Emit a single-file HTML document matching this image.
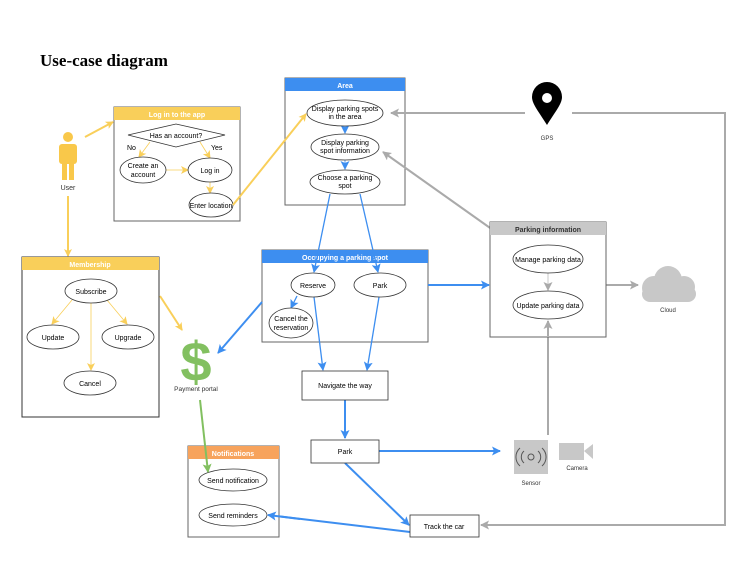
<!DOCTYPE html>
<html><head><style>
body{margin:0;background:#fff;}
svg text{font-family:"Liberation Sans",sans-serif;}
</style></head><body>
<svg width="745" height="580" viewBox="0 0 745 580" xmlns="http://www.w3.org/2000/svg">
<defs>
<marker id="ay" markerWidth="8" markerHeight="8" refX="7" refY="4" orient="auto" markerUnits="userSpaceOnUse"><path d="M0,0 L8,4 L0,8 L2,4z" fill="#f9cf5a"/></marker>
<marker id="ab" markerWidth="9" markerHeight="9" refX="8" refY="4.5" orient="auto" markerUnits="userSpaceOnUse"><path d="M0,0 L9,4.5 L0,9 L2,4.5z" fill="#3d8ef0"/></marker>
<marker id="ag" markerWidth="9" markerHeight="9" refX="8" refY="4.5" orient="auto" markerUnits="userSpaceOnUse"><path d="M0,0 L9,4.5 L0,9 L2,4.5z" fill="#aaa"/></marker>
<marker id="agr" markerWidth="9" markerHeight="9" refX="8" refY="4.5" orient="auto" markerUnits="userSpaceOnUse"><path d="M0,0 L9,4.5 L0,9 L2,4.5z" fill="#82c060"/></marker>
</defs>
<text x="40" y="66" font-weight="bold" font-size="17" style="font-family:'Liberation Serif',serif">Use-case diagram</text>

<!-- user -->
<g fill="#f9c84a">
<circle cx="68" cy="137" r="5"/>
<rect x="59" y="144" width="18" height="20" rx="3"/>
<rect x="62" y="160" width="5" height="20"/><rect x="69" y="160" width="5" height="20"/>
</g>
<text x="68" y="190" font-size="7" text-anchor="middle" fill="#333">User</text>

<!-- login box -->
<rect x="114" y="107" width="126" height="114" fill="#fff" stroke="#666"/>
<rect x="114" y="107" width="126" height="13" fill="#f9cf5a"/>
<text x="177" y="117" font-size="7" font-weight="bold" fill="#fff" text-anchor="middle">Log in to the app</text>
<polygon points="128,135 176,124 225,135 176,147" fill="#fff" stroke="#333" stroke-width="0.8"/>
<text x="176" y="138" font-size="7" text-anchor="middle">Has an account?</text>
<text x="127" y="150" font-size="7">No</text><text x="211" y="150" font-size="7">Yes</text>
<g stroke="#f9cf5a" stroke-width="0.8" fill="none">
<line x1="150" y1="142" x2="139" y2="157" marker-end="url(#ay)"/>
<line x1="200" y1="142" x2="210" y2="158" marker-end="url(#ay)"/>
<line x1="166" y1="170" x2="188" y2="170" marker-end="url(#ay)"/>
<line x1="210" y1="182" x2="210" y2="193" marker-end="url(#ay)"/>
</g>
<g fill="#fff" stroke="#333" stroke-width="0.8">
<ellipse cx="143" cy="170" rx="23" ry="13"/><ellipse cx="210" cy="170" rx="22" ry="12"/><ellipse cx="211" cy="205" rx="22" ry="12"/>
</g>
<text x="143" y="168" font-size="7" text-anchor="middle">Create an</text><text x="143" y="177" font-size="7" text-anchor="middle">account</text>
<text x="210" y="173" font-size="7" text-anchor="middle">Log in</text>
<text x="211" y="208" font-size="7" text-anchor="middle">Enter location</text>

<!-- Area -->
<rect x="285" y="78" width="120" height="127" fill="#fff" stroke="#666"/>
<rect x="285" y="78" width="120" height="13" fill="#3d8ef0"/>
<text x="345" y="88" font-size="7" font-weight="bold" fill="#fff" text-anchor="middle">Area</text>
<g stroke="#3d8ef0" stroke-width="0.8"><line x1="345" y1="126" x2="345" y2="133" marker-end="url(#ab)"/><line x1="345" y1="160" x2="345" y2="169" marker-end="url(#ab)"/></g>
<g fill="#fff" stroke="#333" stroke-width="0.8">
<ellipse cx="345" cy="113" rx="38" ry="13"/><ellipse cx="345" cy="147" rx="34" ry="13"/><ellipse cx="345" cy="182" rx="35" ry="12"/>
</g>
<text x="345" y="111" font-size="7" text-anchor="middle">Display parking spots</text><text x="345" y="119" font-size="7" text-anchor="middle">in the area</text>
<text x="345" y="145" font-size="7" text-anchor="middle">Display parking</text><text x="345" y="153" font-size="7" text-anchor="middle">spot information</text>
<text x="345" y="180" font-size="7" text-anchor="middle">Choose a parking</text><text x="345" y="188" font-size="7" text-anchor="middle">spot</text>

<g stroke-width="2" fill="none">
<line x1="85" y1="137" x2="113" y2="122" stroke="#f9cf5a" marker-end="url(#ay)"/>
<line x1="68" y1="196" x2="68" y2="256" stroke="#f9cf5a" marker-end="url(#ay)"/>
<line x1="233" y1="205" x2="306" y2="114" stroke="#f9cf5a" marker-end="url(#ay)"/>
<line x1="160" y1="296" x2="182" y2="330" stroke="#f9cf5a" marker-end="url(#ay)"/>
</g>

<!-- GPS -->
<path d="M547,125 C539,112 532,104 532,97 A15,15 0 0 1 562,97 C562,104 555,112 547,125z" fill="#000"/>
<circle cx="547" cy="98" r="5" fill="#fff"/>
<text x="547" y="140" font-size="6" text-anchor="middle" fill="#333">GPS</text>
<g stroke="#aaa" stroke-width="2" fill="none">
<line x1="525" y1="113" x2="391" y2="113" marker-end="url(#ag)"/>
<polyline points="572,113 725,113 725,525 481,525" marker-end="url(#ag)"/>
<line x1="500" y1="235" x2="383" y2="152" marker-end="url(#ag)"/>
<line x1="606" y1="285" x2="638" y2="285" marker-end="url(#ag)"/>
<line x1="548" y1="435" x2="548" y2="321" marker-end="url(#ag)"/>
</g>

<!-- Parking info -->
<rect x="490" y="222" width="116" height="115" fill="#fff" stroke="#666"/>
<rect x="490" y="222" width="116" height="13" fill="#c8c8c8"/>
<text x="548" y="232" font-size="7" font-weight="bold" fill="#333" text-anchor="middle">Parking information</text>
<line x1="548" y1="273" x2="548" y2="290" stroke="#bbb" stroke-width="0.8" marker-end="url(#ag)"/>
<g fill="#fff" stroke="#333" stroke-width="0.8"><ellipse cx="548" cy="259" rx="35" ry="14"/><ellipse cx="548" cy="305" rx="35" ry="14"/></g>
<text x="548" y="262" font-size="7" text-anchor="middle">Manage parking data</text>
<text x="548" y="308" font-size="7" text-anchor="middle">Update parking data</text>
<line x1="548" y1="336" x2="548" y2="321" stroke="#aaa" stroke-width="2" marker-end="url(#ag)"/>

<!-- cloud -->
<g fill="#c8c8c8"><circle cx="668" cy="280" r="14"/><circle cx="654" cy="288" r="12"/><circle cx="684" cy="287" r="11"/><rect x="642" y="286" width="54" height="16" rx="8"/></g>
<text x="668" y="312" font-size="6" text-anchor="middle" fill="#333">Cloud</text>

<!-- Occupying -->
<rect x="262" y="250" width="166" height="92" fill="#fff" stroke="#666"/>
<rect x="262" y="250" width="166" height="13" fill="#3d8ef0"/>
<text x="345" y="260" font-size="7" font-weight="bold" fill="#fff" text-anchor="middle">Occupying a parking spot</text>
<g stroke="#3d8ef0" stroke-width="1.3" fill="none">
<line x1="330" y1="194" x2="314" y2="272" marker-end="url(#ab)"/>
<line x1="360" y1="194" x2="378" y2="272" marker-end="url(#ab)"/>
<line x1="297" y1="296" x2="291" y2="308" marker-end="url(#ab)"/>
<line x1="314" y1="297" x2="323" y2="370" marker-end="url(#ab)"/>
<line x1="379" y1="297" x2="367" y2="370" marker-end="url(#ab)"/>
</g>
<g stroke="#3d8ef0" stroke-width="2" fill="none">
<line x1="428" y1="285" x2="489" y2="285" marker-end="url(#ab)"/>
<line x1="262" y1="302" x2="218" y2="353" marker-end="url(#ab)"/>
<line x1="345" y1="400" x2="345" y2="438" marker-end="url(#ab)"/>
<line x1="379" y1="451" x2="500" y2="451" marker-end="url(#ab)"/>
<line x1="345" y1="463" x2="409" y2="525" marker-end="url(#ab)"/>
<line x1="410" y1="532" x2="268" y2="515" marker-end="url(#ab)"/>
</g>
<g fill="#fff" stroke="#333" stroke-width="0.8">
<ellipse cx="313" cy="285" rx="22" ry="12"/><ellipse cx="380" cy="285" rx="26" ry="12"/><ellipse cx="291" cy="323" rx="22" ry="15"/>
</g>
<text x="313" y="288" font-size="7" text-anchor="middle">Reserve</text>
<text x="380" y="288" font-size="7" text-anchor="middle">Park</text>
<text x="291" y="321" font-size="7" text-anchor="middle">Cancel the</text><text x="291" y="330" font-size="7" text-anchor="middle">reservation</text>

<rect x="302" y="371" width="86" height="29" fill="#fff" stroke="#333" stroke-width="0.8"/>
<text x="345" y="388" font-size="7" text-anchor="middle">Navigate the way</text>
<rect x="311" y="440" width="68" height="23" fill="#fff" stroke="#333" stroke-width="0.8"/>
<text x="345" y="454" font-size="7" text-anchor="middle">Park</text>
<rect x="410" y="515" width="69" height="22" fill="#fff" stroke="#333" stroke-width="0.8"/>
<text x="444" y="529" font-size="7" text-anchor="middle">Track the car</text>

<!-- sensor camera -->
<rect x="514" y="440" width="34" height="34" fill="#c8c8c8"/>
<g fill="none" stroke="#555" stroke-width="1"><circle cx="531" cy="457" r="3"/><path d="M524,451 a8,8 0 0 0 0,12 M538,451 a8,8 0 0 1 0,12 M520,448 a12,12 0 0 0 0,18 M542,448 a12,12 0 0 1 0,18"/></g>
<text x="531" y="485" font-size="6" text-anchor="middle" fill="#333">Sensor</text>
<rect x="559" y="443" width="25" height="17" fill="#c8c8c8"/><polygon points="584,451 593,444 593,459" fill="#c8c8c8"/>
<text x="577" y="470" font-size="6" text-anchor="middle" fill="#333">Camera</text>

<!-- Membership -->
<rect x="22" y="257" width="137" height="160" fill="#fff" stroke="#333"/>
<rect x="22" y="257" width="137" height="13" fill="#f9cf5a"/>
<text x="90" y="267" font-size="7" font-weight="bold" fill="#fff" text-anchor="middle">Membership</text>
<g stroke="#f9cf5a" stroke-width="0.8" fill="none">
<line x1="72" y1="300" x2="52" y2="324" marker-end="url(#ay)"/>
<line x1="107" y1="300" x2="127" y2="324" marker-end="url(#ay)"/>
<line x1="91" y1="303" x2="91" y2="370" marker-end="url(#ay)"/>
</g>
<g fill="#fff" stroke="#333" stroke-width="0.8">
<ellipse cx="91" cy="291" rx="26" ry="12"/><ellipse cx="53" cy="337" rx="26" ry="12"/><ellipse cx="128" cy="337" rx="26" ry="12"/><ellipse cx="90" cy="383" rx="26" ry="12"/>
</g>
<text x="91" y="294" font-size="7" text-anchor="middle">Subscribe</text>
<text x="53" y="340" font-size="7" text-anchor="middle">Update</text>
<text x="128" y="340" font-size="7" text-anchor="middle">Upgrade</text>
<text x="90" y="386" font-size="7" text-anchor="middle">Cancel</text>

<!-- payment -->
<text x="196" y="381" font-size="56" font-weight="bold" fill="#82c060" text-anchor="middle">$</text>
<text x="196" y="391" font-size="6.5" text-anchor="middle" fill="#333">Payment portal</text>

<!-- Notifications -->
<rect x="188" y="446" width="91" height="91" fill="#fff" stroke="#666"/>
<rect x="188" y="446" width="91" height="13" fill="#f7a35c"/>
<text x="233" y="456" font-size="7" font-weight="bold" fill="#fff" text-anchor="middle">Notifications</text>
<g fill="#fff" stroke="#333" stroke-width="0.8"><ellipse cx="233" cy="480" rx="34" ry="11"/><ellipse cx="233" cy="515" rx="34" ry="11"/></g>
<text x="233" y="483" font-size="7" text-anchor="middle">Send notification</text>
<text x="233" y="518" font-size="7" text-anchor="middle">Send reminders</text>
<line x1="200" y1="400" x2="208" y2="472" stroke="#82c060" stroke-width="2" marker-end="url(#agr)"/>
<line x1="300" y1="519" x2="268" y2="515" stroke="#3d8ef0" stroke-width="2" marker-end="url(#ab)"/>
</svg>
</body></html>
